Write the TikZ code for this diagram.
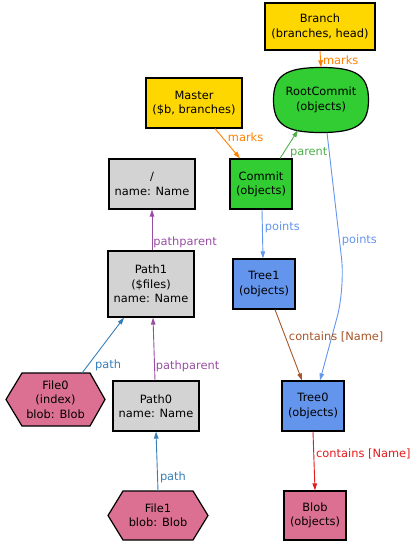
\documentclass[tikz,border=0pt]{standalone}
\usepackage{fontspec}
\setmainfont{DejaVu Sans}
\usetikzlibrary{arrows.meta,calc}
\definecolor{cgold}{HTML}{FFD700}
\definecolor{cgreen}{HTML}{32CD32}
\definecolor{cblue}{HTML}{6495ED}
\definecolor{cgrey}{HTML}{D3D3D3}
\definecolor{cpink}{HTML}{DB7093}
\definecolor{eorange}{HTML}{FF7F00}
\definecolor{egreen}{HTML}{4DAF4A}
\definecolor{epurple}{HTML}{984EA3}
\definecolor{esteel}{HTML}{377EB8}
\definecolor{ered}{HTML}{E41A1C}
\definecolor{ebrown}{HTML}{A65628}
\tikzset{
  every node/.style={font=\fontsize{11.4}{14.3}\selectfont},
  nbox/.style={rectangle, draw=black, line width=1.2pt, align=center, inner sep=0pt},
  shapefill/.style={draw=black, line width=1.2pt},
  plainlabel/.style={rectangle, align=center, inner sep=0pt},
  edge/.style={line width=0.9pt, -{Triangle[length=7pt,width=4.5pt]}},
  elab/.style={anchor=west, inner sep=0pt},
}
\begin{document}
\begin{tikzpicture}[x=1pt,y=-1pt]
\useasboundingbox (0,0) rectangle (412,547);
% nodes
\node[nbox, fill=cgold, minimum width=110pt, minimum height=47pt] (br) at (320,26.5) {Branch\\(branches, head)};
% RootCommit: squircle outline
\filldraw[shapefill, fill=cgreen] (368.5,100) .. controls (368.5,75.5) and (356.5,67.5) .. (321,67.5)
  .. controls (285.5,67.5) and (273.5,75.5) .. (273.5,100)
  .. controls (273.5,124.5) and (285.5,132.5) .. (321,132.5)
  .. controls (356.5,132.5) and (368.5,124.5) .. (368.5,100) -- cycle;
\node[plainlabel, minimum width=95pt, minimum height=65pt] (rc) at (321,100) {RootCommit\\(objects)};
\node[nbox, fill=cgold, minimum width=96pt, minimum height=50pt] (ma) at (194,103) {Master\\(\$b, branches)};
\node[nbox, fill=cgreen, minimum width=62pt, minimum height=50pt] (co) at (261,184) {Commit\\(objects)};
\node[nbox, fill=cgrey, minimum width=86pt, minimum height=50pt] (sl) at (152,184) {/\\name: Name};
\node[nbox, fill=cgrey, minimum width=86pt, minimum height=66pt] (p1) at (151,284) {Path1\\(\$files)\\name: Name};
\node[nbox, fill=cblue, minimum width=62pt, minimum height=50pt] (t1) at (264,284) {Tree1\\(objects)};
\node[nbox, fill=cgrey, minimum width=86pt, minimum height=50pt] (p0) at (156,406) {Path0\\name: Name};
\node[nbox, fill=cblue, minimum width=62pt, minimum height=50pt] (t0) at (313,406) {Tree0\\(objects)};
\node[nbox, fill=cpink, minimum width=62pt, minimum height=49pt] (bl) at (315,515.5) {Blob\\(objects)};
% hexagons
\filldraw[shapefill, fill=cpink] (6,399.5) -- (22,373) -- (90,373) -- (105,399.5) -- (90,426) -- (22,426) -- cycle;
\node[plainlabel, minimum width=99pt, minimum height=53pt] (f0) at (55.5,399.5) {File0\\(index)\\blob: Blob};
\filldraw[shapefill, fill=cpink] (108,515.5) -- (123,491) -- (193,491) -- (208,515.5) -- (193,540) -- (123,540) -- cycle;
\node[plainlabel, minimum width=100pt, minimum height=49pt] (f1) at (158,515.5) {File1\\blob: Blob};
\coordinate (bend) at (345,288);
% edges
\draw[edge, eorange] (br.south) -- (rc.north) node[elab, pos=0.55, xshift=2pt, text=eorange] {marks};
\draw[edge, eorange] ($(ma.south)+(21,0)$) -- ($(co.north)+(-21,0)$) node[elab, pos=0.3, xshift=5pt, text=eorange] {marks};
\draw[edge, egreen] ($(co.north)+(19,0)$) -- ($(rc.south)+(-23,-2.5)$) node[elab, pos=0.2, xshift=6pt, text=egreen] {parent};
\draw[edge, cblue] ($(co.south)+(1,0)$) -- ($(t1.north)+(-1,0)$) node[elab, pos=0.36, xshift=2pt, text=cblue] {points};
\draw[edge, cblue, rounded corners=30pt] ($(rc.south)+(6,0)$) -- (bend) node[elab, pos=0.69, xshift=2pt, text=cblue] {points} -- ($(t0.north)+(7,0)$);
\draw[edge, ebrown] ($(t1.south)+(11,0)$) -- ($(t0.north)+(-11,0)$) node[elab, pos=0.39, xshift=3pt, text=ebrown] {contains [Name]};
\draw[edge, ered] (t0.south) -- (bl.north) node[elab, pos=0.38, xshift=2pt, text=ered] {contains [Name]};
\draw[edge, epurple] ($(p1.north)+(1,0)$) -- (sl.south) node[elab, pos=0.19, xshift=1pt, text=epurple] {pathparent};
\draw[edge, epurple] ($(p0.north)+(-1,0)$) -- ($(p1.south)+(2,0)$) node[elab, pos=0.23, xshift=1pt, text=epurple] {pathparent};
\draw[edge, esteel] (f0.45) -- ($(p1.south)+(-27,0)$) node[elab, pos=0.13, xshift=7pt, text=esteel] {path};
\draw[edge, esteel] (f1.north) -- (p0.south) node[elab, pos=0.22, xshift=2pt, text=esteel] {path};
\end{tikzpicture}
\end{document}
